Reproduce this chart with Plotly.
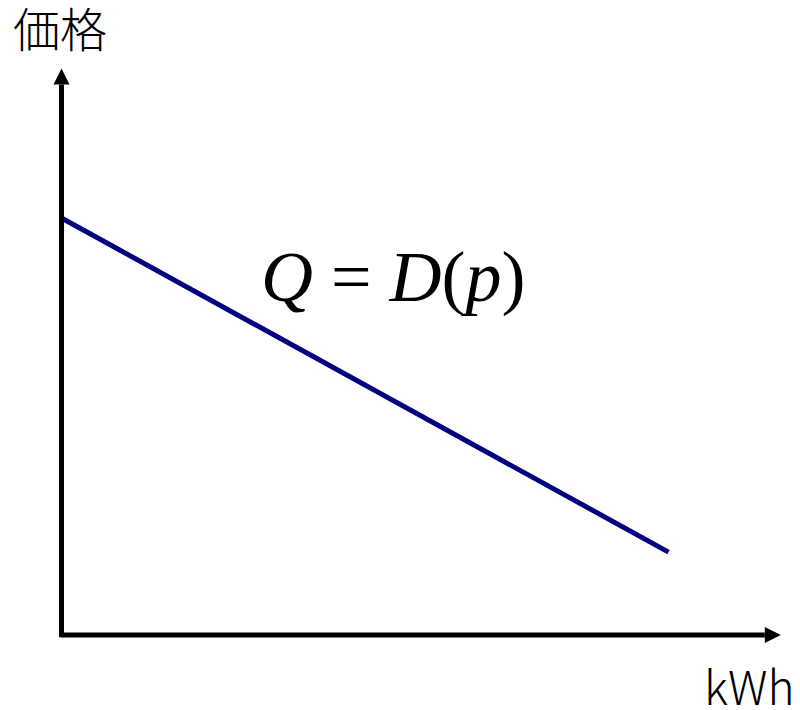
import plotly.graph_objects as go

# 需要曲線 Q = D(p) のデータ
quantity = [0, 100]        # kWh
price = [100, 19.5]        # 価格

# 軸の長さ(矢印の先端まで)
x_axis_end = 118.5
y_axis_end = 136

x_label = "kWh"
y_label = "価格"
curve_label = "<i>Q</i> = <i>D</i>(<i>p</i>)"

# ピクセル換算の目盛り(原点は左から 61.5px、上から 633px)
px_x, px_y = 6.07, 4.15
org_x, org_y = 61.5, 633
W, H = 800, 710

fig = go.Figure()

fig.add_trace(go.Scatter(
    x=quantity,
    y=price,
    mode="lines",
    line=dict(color="#000080", width=5),
    showlegend=False,
    hoverinfo="skip",
))

axis_w = 5
head_len = 16 / px_x
head_half = 8 / px_y
fig.add_shape(type="line", x0=0, y0=-0.5, x1=x_axis_end - head_len, y1=-0.5,
              line=dict(color="black", width=axis_w))
fig.add_shape(type="line", x0=0, y0=-1, x1=0, y1=y_axis_end - 16 / px_y,
              line=dict(color="black", width=axis_w))

# 矢印の先端
hx = 16 / px_x
hy = 16 / px_y
fig.add_shape(type="path",
              path=f"M {x_axis_end - hx} {-0.5 - head_half} L {x_axis_end} -0.5 L {x_axis_end - hx} {-0.5 + head_half} Z",
              fillcolor="black", line=dict(color="black", width=0))
wx = 8 / px_x
fig.add_shape(type="path",
              path=f"M {-wx} {y_axis_end - hy} L 0 {y_axis_end} L {wx} {y_axis_end - hy} Z",
              fillcolor="black", line=dict(color="black", width=0))

fig.add_annotation(x=60 / W, y=1 - 27 / H, xref="paper", yref="paper",
                   xanchor="center", yanchor="middle",
                   text=y_label, showarrow=False,
                   font=dict(family="Noto Sans CJK JP", size=47, color="black", weight=300))
fig.add_annotation(x=749 / W, y=1 - 685 / H, xref="paper", yref="paper",
                   xanchor="center", yanchor="middle",
                   text=x_label, showarrow=False,
                   font=dict(family="Noto Sans CJK JP", size=46, color="black", weight=300))
fig.add_annotation(x=393 / W, y=1 - 277 / H, xref="paper", yref="paper",
                   xanchor="center", yanchor="middle",
                   text=curve_label, showarrow=False,
                   font=dict(family="Liberation Serif", size=72, color="black"))

fig.update_layout(
    width=W, height=H,
    margin=dict(l=0, r=0, t=0, b=0),
    paper_bgcolor="white", plot_bgcolor="white",
    xaxis=dict(range=[-org_x / px_x, (W - org_x) / px_x], visible=False, fixedrange=True),
    yaxis=dict(range=[-(H - org_y) / px_y, org_y / px_y], visible=False, fixedrange=True),
)

fig.write_html("out.html", config={"displayModeBar": False},
               post_script="document.body.style.margin='0';")
